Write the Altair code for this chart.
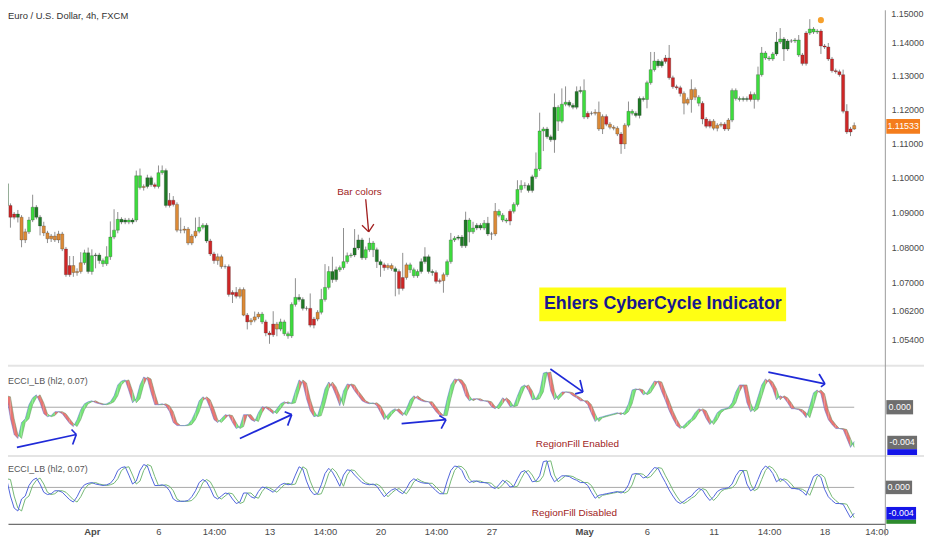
import altair as alt
import pandas as pd

FONT = "Liberation Sans, Arial, sans-serif"

# ---------------- data ----------------
title_text = "Euro / U.S. Dollar, 4h, FXCM"
ind_label = "ECCI_LB (hl2, 0.07)"

first_open = 1.1032
close = [
    1.0983, 1.0920, 1.0886, 1.0895, 1.0886, 1.0821, 1.0844, 1.0878, 1.0915, 1.0886,
    1.0861, 1.0841, 1.0824, 1.0832, 1.0821, 1.0838, 1.0795, 1.0722, 1.0748, 1.0728,
    1.0731, 1.0756, 1.0784, 1.0731, 1.0776, 1.0778, 1.0762, 1.0753, 1.0773, 1.0829,
    1.0849, 1.0880, 1.0872, 1.0878, 1.0872, 1.0878, 1.1006, 1.0972, 1.0975, 1.1000,
    1.0980, 1.0975, 1.1015, 1.1021, 1.0920, 1.0935, 1.0923, 1.0849, 1.0849, 1.0852,
    1.0812, 1.0832, 1.0846, 1.0857, 1.0863, 1.0818, 1.0781, 1.0762, 1.0773, 1.0745,
    1.0745, 1.0666, 1.0672, 1.0661, 1.0680, 1.0608, 1.0589, 1.0594, 1.0603, 1.0611,
    1.0589, 1.0558, 1.0553, 1.0583, 1.0569, 1.0589, 1.0556, 1.0550, 1.0638, 1.0658,
    1.0652, 1.0627, 1.0627, 1.0580, 1.0597, 1.0616, 1.0652, 1.0686, 1.0731, 1.0708,
    1.0736, 1.0742, 1.0759, 1.0776, 1.0778, 1.0798, 1.0821, 1.0770, 1.0793, 1.0812,
    1.0793, 1.0759, 1.0750, 1.0742, 1.0748, 1.0739, 1.0731, 1.0683, 1.0714, 1.0750,
    1.0736, 1.0719, 1.0731, 1.0759, 1.0773, 1.0731, 1.0728, 1.0703, 1.0705, 1.0722,
    1.0759, 1.0821, 1.0826, 1.0829, 1.0804, 1.0878, 1.0844, 1.0855, 1.0863, 1.0855,
    1.0869, 1.0838, 1.0838, 1.0903, 1.0892, 1.0878, 1.0875, 1.0903, 1.0923, 1.0966,
    1.0978, 1.0978, 1.0963, 1.1003, 1.1026, 1.1137, 1.1143, 1.1120, 1.1111, 1.1207,
    1.1166, 1.1216, 1.1222, 1.1213, 1.1207, 1.1254, 1.1257, 1.1178, 1.1189, 1.1189,
    1.1192, 1.1143, 1.1180, 1.1157, 1.1148, 1.1145, 1.1128, 1.1099, 1.1154, 1.1195,
    1.1189, 1.1183, 1.1233, 1.1230, 1.1280, 1.1319, 1.1345, 1.1331, 1.1343, 1.1354,
    1.1295, 1.1268, 1.1265, 1.1248, 1.1219, 1.1230, 1.1260, 1.1237, 1.1219, 1.1172,
    1.1151, 1.1166, 1.1145, 1.1154, 1.1157, 1.1143, 1.1169, 1.1257, 1.1233, 1.1230,
    1.1233, 1.1230, 1.1245, 1.1230, 1.1304, 1.1369, 1.1354, 1.1351, 1.1366, 1.1402,
    1.1411, 1.1381, 1.1405, 1.1405, 1.1408, 1.1363, 1.1337, 1.1429, 1.1441, 1.1432,
    1.1435, 1.1390, 1.1387, 1.1351, 1.1316, 1.1313, 1.1304, 1.1195, 1.1134, 1.1143,
    1.1153,
]
# upper / lower wick lengths in pips
wick_up = [
    9, 6, 6, 6, 12, 6, 9, 9, 36, 6,
    6, 12, 6, 6, 12, 9, 6, 6, 27, 27,
    9, 30, 9, 15, 18, 6, 6, 6, 30, 45,
    60, 21, 6, 6, 6, 6, 15, 21, 6, 9,
    6, 6, 21, 15, 6, 21, 12, 6, 36, 9,
    6, 6, 39, 30, 6, 6, 6, 6, 9, 6,
    6, 6, 6, 15, 6, 6, 6, 6, 15, 6,
    6, 6, 6, 36, 6, 9, 6, 6, 6, 54,
    9, 6, 6, 42, 6, 6, 30, 66, 15, 42,
    9, 6, 96, 9, 6, 54, 15, 6, 9, 15,
    6, 6, 6, 6, 6, 6, 6, 6, 70, 6,
    6, 6, 6, 9, 27, 6, 6, 6, 6, 6,
    6, 20, 6, 6, 6, 24, 6, 18, 6, 6,
    9, 18, 6, 24, 6, 6, 6, 6, 6, 27,
    15, 9, 6, 6, 48, 54, 6, 6, 6, 41,
    6, 47, 47, 6, 6, 15, 12, 33, 6, 6,
    9, 32, 6, 6, 6, 6, 6, 6, 6, 29,
    6, 6, 6, 6, 6, 53, 27, 6, 6, 9,
    39, 6, 6, 6, 6, 6, 30, 6, 6, 6,
    6, 6, 6, 6, 6, 6, 6, 6, 6, 6,
    6, 6, 9, 6, 24, 18, 6, 6, 6, 30,
    33, 6, 6, 6, 6, 15, 6, 6, 30, 6,
    6, 6, 6, 12, 6, 6, 6, 15, 21, 6,
    9,
]
wick_dn = [
    21, 9, 30, 6, 15, 21, 9, 6, 6, 6,
    27, 9, 12, 9, 6, 9, 6, 6, 6, 12,
    9, 6, 6, 6, 9, 36, 9, 9, 6, 9,
    6, 9, 6, 6, 6, 6, 6, 6, 9, 6,
    6, 6, 6, 6, 6, 6, 6, 6, 9, 9,
    6, 6, 6, 6, 6, 6, 6, 9, 12, 6,
    6, 6, 24, 6, 6, 3, 21, 9, 6, 6,
    6, 9, 25, 6, 20, 6, 6, 8, 6, 6,
    6, 6, 6, 6, 9, 6, 6, 6, 6, 9,
    6, 6, 6, 6, 6, 6, 6, 6, 6, 6,
    21, 18, 34, 9, 6, 6, 70, 17, 6, 6,
    9, 6, 6, 6, 6, 6, 9, 6, 6, 34,
    6, 6, 6, 6, 6, 6, 30, 6, 6, 6,
    6, 6, 17, 6, 6, 6, 6, 12, 6, 6,
    9, 9, 6, 6, 6, 6, 59, 6, 6, 38,
    29, 6, 6, 6, 6, 6, 6, 6, 6, 6,
    6, 6, 15, 6, 6, 6, 6, 29, 15, 6,
    6, 6, 9, 6, 26, 6, 6, 6, 6, 6,
    6, 6, 6, 9, 33, 6, 39, 9, 9, 15,
    6, 6, 6, 9, 6, 6, 6, 6, 6, 6,
    6, 6, 6, 27, 6, 6, 6, 6, 6, 6,
    6, 36, 6, 6, 6, 6, 6, 6, 6, 6,
    6, 24, 6, 6, 6, 6, 6, 6, 6, 12,
    3,
]
# bar colour state: G lime, D dark green, R red, O orange
color_codes = list(
    "GDRRDOOGGD" "DOOOOOORRO" "OOGDGDDGGG" "GGDDGDGGOD" "DRGGDRROOO"
    "OOOGGDRROO" "ORRROOROOO" "GRRROGGGGG" "DDGRROGGGD" "DGGGGDDDGG"
    "GDDROODRRO" "GGGDDDDRRO" "GGGDDDGGDD" "GDDOGGGRGG" "GGDDGGGDDD"
    "GGGDDDDGRR" "OOOROOOROG" "GDDDGGGDDR" "RRRROOOOGR" "RROOOROGGG"
    "DDRGGGGGGD" "GDDRGGRRGG" "GRRRRRRRRR" "O"
)
# CyberCycle value, in thousandths
cycle_milli = [
    1.28, 1.17, -1.28, -3.06, -3.5, -1.72, -1.28, 0.28, 1.06, 1.39,
    0.5, -0.72, -1.06, -0.94, -0.5, -0.5, -0.72, -1.28, -1.83, -2.17,
    -1.39, -0.28, 0.39, 0.61, 0.72, 0.5, 0.39, 0.28, 0.39, 0.61,
    1.28, 2.5, 2.94, 3.06, 1.83, 0.5, 0.94, 2.5, 3.39, 3.17,
    1.61, 0.28, 0.28, 0.39, 0.17, -0.5, -1.72, -2.06, -2.06, -2.06,
    -1.94, -1.39, -0.5, 0.72, 1.17, 0.83, -0.17, -1.39, -1.72, -1.28,
    -0.83, -0.94, -1.72, -2.39, -2.17, -0.83, -0.83, -1.39, -1.61, -0.61,
    0.06, -0.06, -0.39, -0.72, -0.17, 0.39, 0.61, 0.39, 0.5, 1.83,
    3.06, 2.72, 0.94, -0.39, -1.06, -0.94, 0.39, 2.06, 2.83, 2.28,
    1.28, 0.17, 1.83, 2.61, 2.5, 1.83, 1.28, 0.72, 0.5, 0.39,
    0.5, 0.17, -0.61, -1.39, -0.83, -0.39, -0.17, -0.61, -0.94, -0.17,
    0.83, 1.28, 0.94, 0.72, 0.61, 0.61, 0.06, -0.5, -0.94, -0.94,
    0.94, 2.5, 3.17, 3.06, 2.5, 1.28, 0.72, 0.94, 0.94, 0.72,
    0.72, 0.61, 0.06, -0.17, 0.39, 1.06, 0.72, 0.06, 0.17, 1.28,
    2.28, 2.5, 1.83, 0.83, 0.94, 1.72, 3.83, 3.94, 1.83, 0.83,
    1.28, 1.72, 1.72, 1.61, 1.28, 1.06, 0.72, 0.72, 0.28, -0.72,
    -1.61, -1.17, -1.06, -0.94, -0.83, -0.72, -0.61, -0.83, -0.5, 0.39,
    1.94, 2.06, 1.94, 1.39, 1.61, 2.28, 2.94, 2.83, 1.72, 0.72,
    -0.39, -1.28, -2.06, -2.39, -2.06, -1.61, -1.28, -0.61, -0.17, -0.39,
    -1.28, -1.94, -1.39, -0.61, -0.28, -0.17, -0.06, 0.5, 1.72, 2.5,
    2.5, 0.5, -0.5, -0.17, 1.17, 2.5, 3.17, 2.83, 2.06, 0.83,
    1.28, 1.06, 0.5, -0.17, -0.17, -0.28, -0.61, -1.17, 0.17, 1.61,
    1.94, 1.5, -0.28, -1.39, -1.94, -2.39, -2.39, -2.5, -3.5, -4.5,
    -3.83,
]
trigger_first_milli = 1.0

price_ticks = [1.054, 1.062, 1.07, 1.08, 1.09, 1.10, 1.11, 1.12, 1.13, 1.14]
top_tick_text = "1.15000"
last_price = [1.1153]
last_price_box = [1.1172, 1.1129]
last_price_text = "1.11533"

xtick_bars = [24, 42, 57, 72, 87, 102, 117, 132, 157, 174, 192, 207, 222, 236]
xtick_labels = ["Apr", "6", "14:00", "13", "14:00", "20", "14:00", "27",
                "May", "6", "11", "14:00", "18", "14:00"]
month_bars = [24, 157]

# annotations (bar index, price / indicator value)
ehlers_text = "Ehlers CyberCycle Indicator"
ehlers_box = dict(b0=144.9, b1=211.6, p0=1.0686, p1=1.0591, bc=178.3, pc=1.0638)
barcolors_text = "Bar colors"
barcolors_pos = (96.3, 1.0960)
barcolors_arrow = dict(sb=98.0, sp=1.0938, tb=98.8, tp=1.0844,
                       h1b=97.0, h1p=1.0863, h2b=100.2, h2p=1.0866)
signal_dot = (221, 1.1468)

# blue hand-drawn arrows on the first indicator pane (values in thousandths)
arr_start_b = [3.75, 64.0, 107.7, 147.9, 206.8]
arr_start_v = [-4.5, -3.5, -1.83, 4.28, 3.94]
arr_tip_b = [19.8, 78.0, 119.7, 156.7, 222.1]
arr_tip_v = [-3.06, -0.83, -1.39, 1.72, 2.61]
arr_h1_b = [18.5, 76.1, 117.9, 155.9, 220.5]
arr_h1_v = [-2.5, -0.5, -0.94, 3.06, 3.72]
arr_h2_b = [18.8, 76.9, 118.4, 154.6, 221.0]
arr_h2_v = [-4.17, -2.06, -2.39, 1.5, 2.28]

enabled_text = "RegionFill Enabled"
enabled_pos = (155.2, -0.00411)
disabled_text = "RegionFill Disabled"
disabled_pos = (154.4, -0.00378)

# ---------------- tables ----------------
n = len(close)
opens = [first_open] + close[:-1]
highs = [max(o, c) + u / 10000 for o, c, u in zip(opens, close, wick_up)]
lows = [min(o, c) - d / 10000 for o, c, d in zip(opens, close, wick_dn)]
palette = {"G": "#3ddc3d", "D": "#1e7a25", "R": "#cf2626", "O": "#dc8a36"}
candles = pd.DataFrame({"bar": range(n), "open": opens, "close": close,
                        "high": highs, "low": lows,
                        "fill": [palette[c] for c in color_codes[:n]]})

cyc = [v / 1000 for v in cycle_milli]
trig = [trigger_first_milli / 1000] + cyc[:-1]
ind = pd.DataFrame({"bar": range(n), "cycle": cyc, "trigger": trig})

band_colors = {"up": "#78e678", "dn": "#ea7672"}
seg_rows = []
for s in range(1, n):
    d = "up" if cyc[s] > trig[s] else "dn"
    for j in (s - 1, s):
        seg_rows.append({"seg": s, "bar": j, "c": cyc[j], "t": trig[j], "fill": band_colors[d]})
segs = pd.DataFrame(seg_rows)

zero_df = pd.DataFrame({"b0": [0], "b1": [n - 1], "v": [0.0]})

arrow_rows = []
for i in range(len(arr_start_b)):
    tb, tv = arr_tip_b[i], arr_tip_v[i] / 1000
    arrow_rows.append({"x": arr_start_b[i], "y": arr_start_v[i] / 1000, "x2": tb, "y2": tv})
    arrow_rows.append({"x": arr_h1_b[i], "y": arr_h1_v[i] / 1000, "x2": tb, "y2": tv})
    arrow_rows.append({"x": arr_h2_b[i], "y": arr_h2_v[i] / 1000, "x2": tb, "y2": tv})
arrows = pd.DataFrame(arrow_rows)

a = barcolors_arrow
bc_arrow = pd.DataFrame([
    {"x": a["sb"], "y": a["sp"], "x2": a["tb"], "y2": a["tp"]},
    {"x": a["h1b"], "y": a["h1p"], "x2": a["tb"], "y2": a["tp"]},
    {"x": a["h2b"], "y": a["h2p"], "x2": a["tb"], "y2": a["tp"]},
])

# ---------------- layout / scales ----------------
W = 885
H = 518                       # whole stacked plot area
R_MAIN = [358, 0]             # price pane pixel range
R_P1 = [449, 359]             # first indicator pane
R_P2 = [518, 450]             # second indicator pane
PAD_R, PAD_B = 39, 12
RIGHT = W + PAD_R             # right-most drawn pixel

x_axis = alt.Axis(orient="bottom", values=xtick_bars,
                  labelExpr=" : ".join(f"datum.value == {b} ? '{t}'" for b, t in zip(xtick_bars, xtick_labels)) + " : ''",
                  labelFont=FONT, labelFontSize=9.5, labelColor="#4a4a4a",
                  labelFontWeight=alt.condition(" || ".join(f"datum.value == {b}" for b in month_bars),
                                                alt.value("bold"), alt.value("normal")),
                  ticks=False, labelPadding=3, domainColor="#4a4a4a", domainWidth=1,
                  grid=False, title=None, labelOverlap=False)
xs = alt.Scale(domain=[1.339, 238.41], range=[0, W], nice=False, zero=False, padding=0)


def X(f="bar"):
    return alt.X(f"{f}:Q", scale=xs, axis=x_axis)


price_axis = alt.Axis(orient="right", values=price_ticks, format=".5f", ticks=False,
                      labelPadding=6, labelFont=FONT, labelFontSize=9,
                      labelColor="#4a4a4a", domain=False, grid=False,
                      title=None, labelOverlap=False)
ps = alt.Scale(type="log", domain=[1.04686, 1.14979], range=R_MAIN, nice=False, zero=False, padding=0)
s1 = alt.Scale(domain=[-0.0054, 0.0046], range=R_P1, nice=False, zero=False, padding=0)
s2 = alt.Scale(domain=[-0.0054, 0.0046], range=R_P2, nice=False, zero=False, padding=0)


def PY(f):
    return alt.Y(f"{f}:Q", scale=ps, axis=price_axis)


# ---------------- main pane ----------------
wicks = alt.Chart(candles).mark_rule(color="#8e8e8e", strokeWidth=1, clip=True).encode(
    x=X(), y=PY("low"), y2="high:Q")
bodies = alt.Chart(candles).mark_bar(size=3.2, clip=True, stroke="#303030",
                                     strokeWidth=0.5, strokeOpacity=0.55).encode(
    x=X(), y=PY("open"), y2="close:Q", color=alt.Color("fill:N", scale=None))

eb = pd.DataFrame([ehlers_box])
ebox = alt.Chart(eb).mark_rect(color="#ffff14").encode(x=X("b0"), x2="b1:Q", y=PY("p0"), y2="p1:Q")
etext = alt.Chart(eb).mark_text(text=ehlers_text, font=FONT, fontSize=18, fontWeight="bold",
                                color="#17178f", align="center", baseline="middle").encode(
    x=X("bc"), y=PY("pc"))

bct = pd.DataFrame({"b": [barcolors_pos[0]], "p": [barcolors_pos[1]], "t": [barcolors_text]})
bctext = alt.Chart(bct).mark_text(font=FONT, fontSize=10, color="#a01c1c",
                                  align="center", baseline="middle").encode(
    x=X("b"), y=PY("p"), text="t:N")
bcarrow = alt.Chart(bc_arrow).mark_rule(color="#a01c1c", strokeWidth=1.3).encode(
    x=X("x"), y=PY("y"), x2="x2:Q", y2="y2:Q")

dot = alt.Chart(pd.DataFrame({"b": [signal_dot[0]], "p": [signal_dot[1]]})).mark_circle(
    size=38, color="#f6a02c", opacity=1).encode(x=X("b"), y=PY("p"))

lpb = pd.DataFrame({"p0": [last_price_box[0]], "p1": [last_price_box[1]]})
lpbox = alt.Chart(lpb).mark_rect(color="#f47d1c").encode(
    x=alt.value(W + 1), x2=alt.value(W + 35), y=PY("p0"), y2="p1:Q")
lp = pd.DataFrame({"p": last_price, "t": [last_price_text]})
lptext = alt.Chart(lp).mark_text(font=FONT, fontSize=9, color="white",
                                 align="center", baseline="middle").encode(
    x=alt.value(W + 18), y=PY("p"), text="t:N")

main = alt.layer(wicks, bodies, ebox, etext, bctext, bcarrow, dot, lpbox, lptext)


# ---------------- helpers for pixel-placed text ----------------
def ptext(text, x, y, size, color, align="left", baseline="middle", weight="normal"):
    return alt.Chart(pd.DataFrame({"t": [text]})).mark_text(
        font=FONT, fontSize=size, color=color, align=align, baseline=baseline,
        fontWeight=weight).encode(x=alt.value(x), y=alt.value(y), text="t:N")


def hrule(y, color, width):
    return alt.Chart(pd.DataFrame({"k": [0]})).mark_rule(color=color, strokeWidth=width).encode(
        x=alt.value(0), x2=alt.value(RIGHT), y=alt.value(y))


# ---------------- indicator panes ----------------
def pane(scale, with_fill):
    def IY(f):
        return alt.Y(f"{f}:Q", scale=scale, axis=None, stack=None)

    layers = [alt.Chart(zero_df).mark_rule(color="#a8a8a8", strokeWidth=1, clip=True).encode(
        x=X("b0"), x2="b1:Q", y=IY("v"))]
    if with_fill:
        layers.append(alt.Chart(segs).mark_area(clip=True, opacity=1).encode(
            x=X(), y=IY("c"), y2="t:Q", detail="seg:N", color=alt.Color("fill:N", scale=None)))
        layers.append(alt.Chart(ind).mark_line(color="#5b8f5b", strokeWidth=0.6, clip=True,
                                               opacity=0.8).encode(x=X(), y=IY("trigger")))
        layers.append(alt.Chart(ind).mark_line(color="#4f63d6", strokeWidth=0.6, clip=True,
                                               opacity=0.8).encode(x=X(), y=IY("cycle")))
        layers.append(alt.Chart(arrows).mark_rule(color="#1f2ad8", strokeWidth=1.7).encode(
            x=X("x"), y=IY("y"), x2="x2:Q", y2="y2:Q"))
        layers.append(alt.Chart(pd.DataFrame({"b": [enabled_pos[0]], "v": [enabled_pos[1]],
                                              "t": [enabled_text]})).mark_text(
            font=FONT, fontSize=10, color="#a01c1c", align="center", baseline="middle").encode(
            x=X("b"), y=IY("v"), text="t:N"))
    else:
        layers.append(alt.Chart(ind).mark_line(color="#74b874", strokeWidth=1, clip=True).encode(
            x=X(), y=IY("trigger")))
        layers.append(alt.Chart(ind).mark_line(color="#5064dc", strokeWidth=1, clip=True).encode(
            x=X(), y=IY("cycle")))
        layers.append(alt.Chart(pd.DataFrame({"b": [disabled_pos[0]], "v": [disabled_pos[1]],
                                              "t": [disabled_text]})).mark_text(
            font=FONT, fontSize=10, color="#a01c1c", align="center", baseline="middle").encode(
            x=X("b"), y=IY("v"), text="t:N"))

    def vbox(v0, v1, x0, x1, color):
        return alt.Chart(pd.DataFrame({"a": [v0], "b": [v1]})).mark_rect(color=color).encode(
            x=alt.value(x0), x2=alt.value(x1), y=IY("a"), y2="b:Q")

    def vtext(text, v, xc):
        return alt.Chart(pd.DataFrame({"v": [v], "t": [text]})).mark_text(
            font=FONT, fontSize=9, color="white", align="center", baseline="middle").encode(
            x=alt.value(xc), y=IY("v"), text="t:N")

    if with_fill:
        layers += [vbox(0.0008, -0.0008, W + 1, W + 28, "#6e6e6e"), vtext("0.000", 0.0, W + 14.5),
                   vbox(-0.0032, -0.0047, W + 2, W + 32, "#6e6e6e"), vtext("-0.004", -0.00395, W + 17),
                   vbox(-0.0047, -0.0054, W + 2, W + 32, "#1515e8")]
    else:
        layers += [vbox(0.001, -0.001, W, W + 27, "#6e6e6e"), vtext("0.000", 0.0, W + 13.5),
                   vbox(-0.0029, -0.0048, W + 1, W + 31, "#1515e8"), vtext("-0.004", -0.00385, W + 16),
                   vbox(-0.0048, -0.0054, W + 1, W + 31, "#2e8b2e")]
    return alt.layer(*layers)


p1 = pane(s1, True)
p2 = pane(s2, False)

overlay = alt.layer(
    hrule(358.5, "#e4e4e4", 2), hrule(449.5, "#e4e4e4", 2),
    alt.Chart(pd.DataFrame({"k": [0]})).mark_rule(color="#9a9a9a", strokeWidth=1).encode(
        x=alt.value(W), y=alt.value(0), y2=alt.value(H + PAD_B)),
    ptext(title_text, 0, 6, 9.5, "#333333"),
    ptext(top_tick_text, W + 6, 0, 9, "#4a4a4a", baseline="top"),
    ptext(ind_label, 0, 374, 9, "#555555"),
    ptext(ind_label, 0, 463, 9, "#555555"),
)

chart = alt.layer(main, p1, p2, overlay).resolve_scale(y="independent").properties(
    width=W, height=H, background="white",
    padding={"left": 0, "top": 0, "right": PAD_R, "bottom": PAD_B},
    autosize=alt.AutoSizeParams(type="none"),
).configure_view(stroke=None)

chart.save("out.html", embed_options={"renderer": "svg", "actions": False})
